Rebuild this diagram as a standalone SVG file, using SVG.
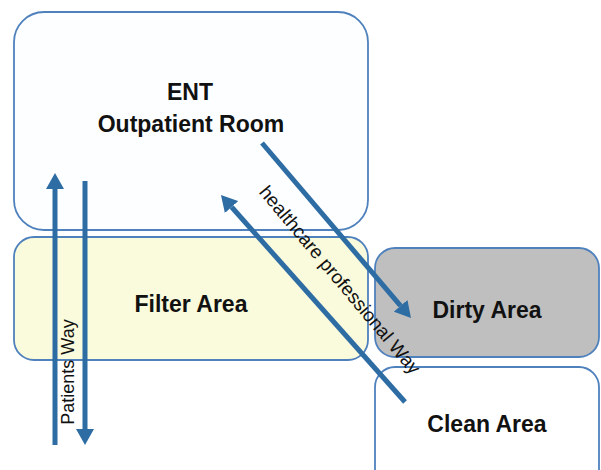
<svg xmlns="http://www.w3.org/2000/svg" width="601" height="470" viewBox="0 0 601 470">
<style>
.box{stroke:#4f81bd;stroke-width:1.8}
.lbl{font-family:"Liberation Sans",Arial,sans-serif;font-weight:bold;font-size:23px;fill:#111;text-anchor:middle}
.way{font-family:"Liberation Sans",Arial,sans-serif;font-size:18px;fill:#111;text-anchor:middle}
.arr{stroke:#2e6ca4;stroke-width:5;fill:none}
</style>
<defs>
<marker id="ah" viewBox="0 0 16 18" refX="0" refY="9" markerWidth="16" markerHeight="18" markerUnits="userSpaceOnUse" orient="auto">
<path d="M0,0 L16,9 L0,18 Z" fill="#2e6ca4"/>
</marker>
</defs>
<rect width="601" height="470" fill="#fff"/>
<g id="ent">
<rect class="box" x="14" y="12" width="354" height="218" rx="30" fill="#fdfeff"/>
<text class="lbl" x="190" y="100">ENT</text>
<text class="lbl" x="191" y="132">Outpatient Room</text>
</g>
<g id="filter">
<rect class="box" x="14" y="237" width="354" height="123" rx="20" fill="#fafadc"/>
<text class="lbl" x="191" y="312">Filter Area</text>
</g>
<g id="dirty">
<rect class="box" x="375" y="248" width="224" height="109" rx="20" fill="#bfbfbf"/>
<text class="lbl" x="487" y="318">Dirty Area</text>
</g>
<g id="clean">
<rect class="box" x="375" y="367" width="224" height="130" rx="20" fill="#fff"/>
<text class="lbl" x="487" y="432">Clean Area</text>
</g>
<g id="connectors">
<line class="arr" x1="55" y1="445" x2="55" y2="189" marker-end="url(#ah)"/>
<line class="arr" x1="85" y1="181" x2="85" y2="429" marker-end="url(#ah)"/>
<line class="arr" x1="262" y1="143" x2="400.6" y2="305.8" marker-end="url(#ah)"/>
<line class="arr" x1="405" y1="402" x2="231.6" y2="207" marker-end="url(#ah)"/>
<text class="way" transform="translate(74,372) rotate(-90)">Patients Way</text>
<text class="way" style="font-size:19px" transform="translate(335,284) rotate(50)">healthcare professional Way</text>
</g>
</svg>
